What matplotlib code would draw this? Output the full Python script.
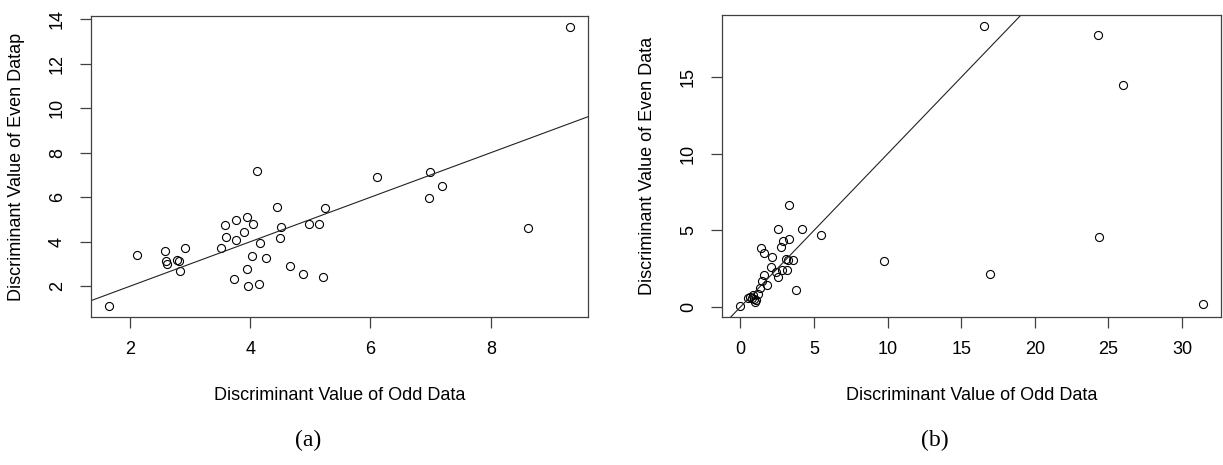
#!/usr/bin/env python3

import numpy as np
import matplotlib
matplotlib.use('Agg')
import matplotlib.pyplot as plt


# panel (a): odd vs even discriminant values
odd_a = [1.66, 2.12, 2.58, 2.60, 2.62, 2.78, 2.81, 2.83, 2.91, 3.52,
         3.58, 3.60, 3.73, 3.77, 3.77, 3.89, 3.94, 3.94, 3.96, 4.04,
         4.03, 4.12, 4.15, 4.17, 4.27, 4.45, 4.51, 4.50, 4.66, 4.87,
         4.97, 5.14, 5.21, 5.24, 6.11, 6.99, 6.98, 7.19, 8.62, 9.31]
even_a = [1.12, 3.40, 3.58, 3.13, 2.99, 3.16, 3.13, 2.70, 3.70, 3.73,
          4.75, 4.22, 2.34, 4.97, 4.06, 4.42, 5.10, 2.76, 1.99, 4.81,
          3.36, 7.18, 2.12, 3.96, 3.27, 5.55, 4.67, 4.19, 2.90, 2.57,
          4.78, 4.78, 2.43, 5.51, 6.90, 7.12, 5.96, 6.49, 4.61, 13.64]

# panel (b)
odd_b = [0.00, 0.52, 0.68, 0.79, 0.91, 0.98, 0.85, 1.05, 1.18, 1.36,
         1.47, 1.63, 1.79, 1.41, 1.63, 2.11, 2.09, 2.38, 2.52, 2.54,
         2.74, 2.81, 2.90, 3.06, 3.13, 3.20, 3.27, 3.31, 3.54, 3.76,
         4.17, 5.46, 9.77, 16.56, 24.27, 25.97, 24.34, 16.97, 31.39]
even_b = [0.07, 0.61, 0.65, 0.61, 0.52, 0.30, 0.75, 0.45, 0.87, 1.26,
          1.67, 2.07, 1.41, 3.87, 3.54, 3.26, 2.61, 2.28, 1.96, 5.07,
          3.91, 2.39, 4.30, 3.15, 2.39, 3.04, 4.46, 6.65, 3.04, 1.09,
          5.07, 4.67, 3.02, 18.33, 17.78, 14.50, 4.59, 2.13, 0.22]

plt.rcParams['font.family'] = ['Liberation Sans', 'DejaVu Sans']

FRAME = '#404040'


def r_limits(v):
    # R pads the data range by 4% on each side
    lo, hi = min(v), max(v)
    d = (hi - lo) * 0.04
    return lo - d, hi + d


def scatter_panel(ax, x, y, xticks, yticks, ylabel):
    ax.plot(x, y, 'o', mfc='none', mec='black', ms=5.8, mew=0.8)
    ax.set_xlim(*r_limits(x))
    ax.set_ylim(*r_limits(y))
    # identity line
    xs = np.array(ax.get_xlim())
    ax.plot(xs, xs, color='#222222', lw=0.8)
    ax.set_xlim(*r_limits(x))
    ax.set_ylim(*r_limits(y))
    ax.set_xticks(xticks)
    ax.set_yticks(yticks)
    ax.set_yticklabels([str(t) for t in yticks], rotation=90, va='center')
    for s in ax.spines.values():
        s.set_color(FRAME)
        s.set_linewidth(0.9)
    ax.tick_params(direction='out', length=8, width=0.9, color=FRAME,
                   labelsize=13, pad=9)
    ax.tick_params(axis='y', pad=10)
    ax.set_xlabel('Discriminant Value of Odd Data', fontsize=13, labelpad=21)
    ax.set_ylabel(ylabel, fontsize=13, labelpad=17)


def main():
    fig = plt.figure(figsize=(12.23, 4.65), dpi=100)
    ax_a = fig.add_axes([91 / 1223, 1 - 317 / 465, 497 / 1223, 301 / 465])
    ax_b = fig.add_axes([722 / 1223, 1 - 317 / 465, 499 / 1223, 302 / 465])

    scatter_panel(ax_a, odd_a, even_a, [2, 4, 6, 8],
                  [2, 4, 6, 8, 10, 12, 14], 'Discriminant Value of Even Datap')
    scatter_panel(ax_b, odd_b, even_b, [0, 5, 10, 15, 20, 25, 30],
                  [0, 5, 10, 15], 'Discriminant Value of Even Data')

    fig.text(308 / 1223, 1 - 440 / 465, '(a)', ha='center', va='center',
             fontsize=17, family='Liberation Serif')
    fig.text(935 / 1223, 1 - 440 / 465, '(b)', ha='center', va='center',
             fontsize=17, family='Liberation Serif')

    fig.savefig('out.png', dpi=100)


if __name__ == '__main__':
    main()
